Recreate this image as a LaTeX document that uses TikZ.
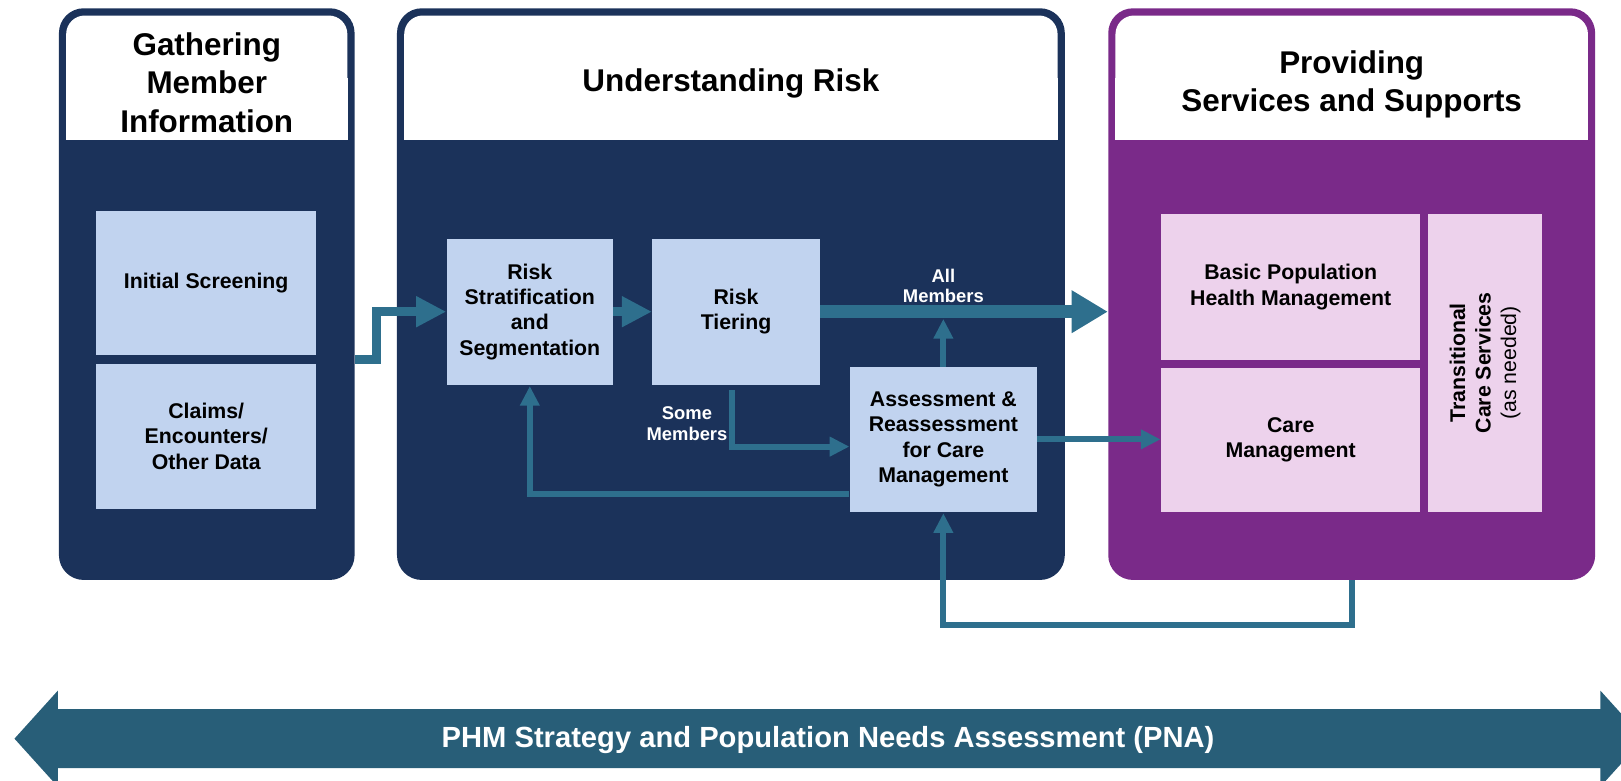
\documentclass[tikz,border=0pt]{standalone}
\usepackage{fontspec}
\setmainfont{Liberation Sans}
\usepackage{tikz}
\usetikzlibrary{arrows.meta,positioning,calc}
\definecolor{phmnavy}{RGB}{27,50,90}
\definecolor{phmplum}{RGB}{122,42,137}
\definecolor{phmsky}{RGB}{193,211,239}
\definecolor{phmpink}{RGB}{237,210,236}
\definecolor{phmteal}{RGB}{46,111,141}
\definecolor{phmband}{RGB}{40,94,120}
\tikzset{
  blk/.style = {rectangle, inner sep=0pt, rounded corners=12pt},
  blk_n/.style = {blk, fill=phmnavy},% panel, navy
  blk_p/.style = {blk, fill=phmplum},% panel, purple
  hdr/.style = {rectangle, fill=white, rounded corners=9pt, inner sep=0pt,
    align=center, font=\fontsize{15.2}{18.5}\selectfont\bfseries},% panel title
  box/.style = {rectangle, inner sep=0pt, align=center,
    font=\fontsize{10.3}{12.3}\selectfont\bfseries},
  box_b/.style = {box, fill=phmsky},% step, blue
  box_p/.style = {box, fill=phmpink},% service, pink
  lbl/.style = {inner sep=0pt, align=center, white,
    font=\fontsize{8.9}{10}\selectfont\bfseries},% arrow label
  lnk_l/.style = {draw=phmteal, line width=6.3pt,
    -{Triangle[width=19.5pt,length=17.5pt]}},
  lnk_m/.style = {draw=phmteal, line width=4.5pt,
    -{Triangle[width=14pt,length=14.5pt]}},
  lnk_s/.style = {draw=phmteal, line width=2.8pt,
    -{Triangle[width=9pt,length=9.5pt]}}
}

\begin{document}
\begin{tikzpicture}[x=0.5pt,y=-0.5pt]
    \useasboundingbox (0,0) rectangle (1568,755);
    \clip (0,0) rectangle (1568,755);
    % panels
    \node [blk_n, minimum width=143pt, minimum height=276.5pt] (gath) at (200,284.5) {};
    \node [blk_n, minimum width=323pt, minimum height=276.5pt] (risk) at (707,284.5) {};
    \node [blk_p, minimum width=235.5pt, minimum height=276.5pt] (prov) at (1307.5,284.5) {};
    \node [hdr, minimum width=136pt, minimum height=60pt] (gath_h) at (200,75) {};
    \node [hdr, minimum width=316pt, minimum height=60pt] (risk_h) at (707,75) {};
    \node [hdr, minimum width=228.5pt, minimum height=60pt] (prov_h) at (1307.5,75) {};
    \foreach \h in {gath_h,risk_h,prov_h}
        \fill [white] (\h.west) rectangle (\h.south east);
    \node [align=center, font=\fontsize{15.2}{18.5}\selectfont\bfseries] (gath_t) at (200,80) {Gathering\\Member\\Information};
    \node [align=center, font=\fontsize{15.2}{18.5}\selectfont\bfseries] (risk_t) at (707,81) {Understanding Risk};
    \node [align=center, font=\fontsize{15.2}{18.5}\selectfont\bfseries] (prov_t) at (1307.5,81.5) {Providing\\Services and Supports};
    % steps
    \node [box_b, minimum width=106.5pt, minimum height=69.5pt] (init) at (199.5,273.5) {Initial Screening};
    \node [box_b, minimum width=106.5pt, minimum height=70pt] (claims) at (199.5,422) {Claims/\\Encounters/\\Other Data};
    \node [box_b, minimum width=80.5pt, minimum height=70.5pt] (strat) at (512.5,301.5) {Risk\\Stratification\\and\\Segmentation};
    \node [box_b, minimum width=81pt, minimum height=70.5pt] (tier) at (712,301.5) {Risk\\Tiering};
    \node [box_b, minimum width=90.5pt, minimum height=70pt] (assess) at (912.5,425) {Assessment \&\\Reassessment\\for Care\\Management};
    \node [box_p, minimum width=125.5pt, minimum height=70.5pt] (bphm) at (1248.5,277.5) {Basic Population\\Health Management};
    \node [box_p, minimum width=125.5pt, minimum height=69.5pt] (cmgmt) at (1248.5,425.5) {Care\\Management};
    \node [box_p, rotate=90, minimum width=144pt, minimum height=55.5pt] (trans) at (1436.5,351) {Transitional\\Care Services\\{\mdseries (as needed)}};
    % connectors
    \coordinate (gap) at ($(init.south)!.5!(claims.north)$);
    \coordinate (allm) at (assess.north |- tier.east);
    \draw [lnk_m] (gap -| gath.east) -- ++(21,0) |- (strat.west);
    \draw [lnk_m] (strat.east) -- (tier.west);
    \draw [lnk_l] (tier.east) -- (tier.east -| prov.west);
    \draw [lnk_s] (assess.north) -- ($(allm)+(0,7)$);
    \draw [lnk_s] ($(tier.south)+(-4,5)$) |- ($(assess.west)+(0,7)$);
    \draw [lnk_s] (assess.east) -- (assess.east -| cmgmt.west);
    \draw [lnk_s] ($(assess.west)+(0,53)$) -| ($(strat.south)+(0,1)$);
    \draw [lnk_s] (prov.south) -- ++(0,43) -| ($(assess.south)+(0,1)$);
    \node [lbl, above=4pt of allm] (allmem) {All\\Members};
    \node [lbl, below left=10.5pt and 4pt of tier.south] (somemem) {Some\\Members};
    % strategy band
    \fill [phmband] (14,714.5) -- (56,668) -- (56,686) -- (1548,686) -- (1548,668)
        -- (1590,714.5) -- (1548,761) -- (1548,743) -- (56,743) -- (56,761) -- cycle;
    \node [white, inner sep=0pt, font=\fontsize{14.1}{16}\selectfont\bfseries] (pna) at (801,716) {PHM Strategy and Population Needs Assessment (PNA)};
\end{tikzpicture}
\end{document}
